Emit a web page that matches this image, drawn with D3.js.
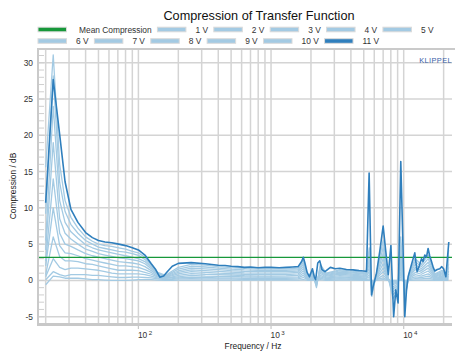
<!DOCTYPE html>
<html><head><meta charset="utf-8">
<script src="https://cdn.jsdelivr.net/npm/d3@7"></script>
<style>body{margin:0;background:#fff}svg{display:block;font-family:"Liberation Sans",Arial,sans-serif}</style>
</head><body><svg id="c" width="455" height="352"></svg>
<script>
// ---- data ----
const title = "Compression of Transfer Function";
const xLabel = "Frequency / Hz";
const yLabel = "Compression / dB";
const seriesNames = ["1 V","2 V","3 V","4 V","5 V","6 V","7 V","8 V","9 V","10 V","11 V"];
const meanName = "Mean Compression";
const meanCompression = 3.18;
const yTicks = [-5, 0, 5, 10, 15, 20, 25, 30];
const xDecades = [100, 1000, 10000];

// shared frequency grid for 1 V .. 10 V
const freqs = [20, 22.8, 25.5, 28, 31, 35, 40, 45, 50, 56, 63, 71, 80, 90, 100, 112, 125, 140, 160, 180, 200, 250, 320, 400, 500, 630, 800, 1000, 1300, 1600, 1750, 1900, 2050, 2200, 2350, 2600, 3300, 4200, 5200, 5500, 5750, 6200, 7000, 7600, 8300, 9000, 9500, 10200, 11000, 12200, 13600, 15300, 17200, 19500, 21000, 21800];
const v1  = [-0.6, 0.6, 0.5, 0.3, 0.3, 0.3, 0.2, 0.1, 0.1, 0.05, 0.0, 0.0, 0.0, 0.05, 0.1, 0.1, 0.1, 0.05, 0.0, 0.0, 0.05, 0.05, 0.05, 0.05, 0.05, 0.05, 0.05, 0.05, 0.05, 0.05, 0.1, 0.0, 0.0, 0.0, 0.1, 0.0, 0.05, 0.05, 0.0, 0.05, 0.0, 0.0, 0.1, 0.0, 0.0, 0.0, 0.05, 0.0, 0.0, 0.05, 0.05, 0.05, 0.0, 0.05, 0.0, 0.05];
const v2  = [0.1, 1.2, 0.8, 0.6, 0.8, 0.8, 0.8, 0.7, 0.7, 0.6, 0.5, 0.4, 0.4, 0.45, 0.44, 0.4, 0.35, 0.2, 0.1, 0.15, 0.2, 0.25, 0.2, 0.2, 0.2, 0.15, 0.15, 0.15, 0.15, 0.2, 0.4, 0.1, 0.1, -0.05, 0.3, 0.1, 0.2, 0.15, 0.1, 0.2, -0.1, 0.1, 0.35, 0.05, -0.1, -0.05, 0.2, -0.1, 0.1, 0.25, 0.2, 0.3, 0.1, 0.15, 0.0, 0.25];
const v3  = [0.5, 3.0, 1.8, 1.5, 1.7, 1.7, 1.6, 1.5, 1.4, 1.2, 1.0, 0.9, 0.9, 0.9, 0.9, 0.8, 0.6, 0.3, 0.2, 0.25, 0.35, 0.45, 0.4, 0.35, 0.35, 0.3, 0.3, 0.3, 0.3, 0.35, 0.7, 0.1, 0.25, -0.1, 0.5, 0.25, 0.35, 0.3, 0.25, 0.5, -0.25, 0.15, 0.7, 0.1, -0.25, -0.15, 0.45, -0.25, 0.2, 0.5, 0.4, 0.6, 0.2, 0.3, 0.05, 0.55];
const v4  = [0.8, 6.0, 3.3, 2.7, 2.7, 2.6, 2.3, 2.2, 2.0, 1.8, 1.6, 1.4, 1.4, 1.4, 1.34, 1.1, 0.85, 0.45, 0.3, 0.4, 0.5, 0.7, 0.6, 0.55, 0.55, 0.5, 0.45, 0.45, 0.45, 0.5, 1.0, 0.2, 0.35, -0.2, 0.7, 0.35, 0.5, 0.4, 0.35, 0.8, -0.4, 0.25, 1.2, 0.15, -0.4, -0.25, 0.8, -0.45, 0.3, 0.8, 0.6, 0.9, 0.3, 0.45, 0.1, 0.9];
const v5  = [2.0, 10.0, 4.8, 3.8, 3.7, 3.4, 3.0, 2.8, 2.6, 2.4, 2.2, 2.0, 2.0, 1.9, 1.8, 1.5, 1.1, 0.55, 0.4, 0.5, 0.7, 0.95, 0.85, 0.8, 0.75, 0.65, 0.6, 0.6, 0.62, 0.7, 1.3, 0.2, 0.5, -0.3, 1.0, 0.45, 0.65, 0.55, 0.5, 1.2, -0.6, 0.3, 1.7, 0.2, -0.6, -0.35, 1.2, -0.7, 0.4, 1.1, 0.85, 1.3, 0.4, 0.6, 0.15, 1.3];
const v6  = [2.7, 14.0, 6.5, 5.0, 4.7, 4.2, 3.7, 3.4, 3.2, 3.0, 2.8, 2.6, 2.5, 2.4, 2.26, 1.9, 1.35, 0.7, 0.45, 0.65, 0.9, 1.2, 1.1, 1.0, 0.95, 0.85, 0.8, 0.8, 0.8, 0.9, 1.6, 0.3, 0.6, -0.4, 1.2, 0.6, 0.85, 0.7, 0.6, 1.7, -0.8, 0.4, 2.3, 0.3, -0.9, -0.5, 1.8, -1.0, 0.5, 1.5, 1.1, 1.7, 0.5, 0.75, 0.2, 1.8];
const v7  = [4.2, 19.0, 8.5, 6.5, 5.7, 5.0, 4.3, 4.0, 3.7, 3.5, 3.3, 3.1, 3.0, 2.85, 2.7, 2.3, 1.6, 0.8, 0.5, 0.8, 1.1, 1.45, 1.35, 1.25, 1.15, 1.05, 1.0, 1.0, 1.0, 1.1, 1.9, 0.3, 0.7, -0.5, 1.4, 0.7, 1.0, 0.85, 0.7, 2.3, -1.1, 0.5, 3.0, 0.35, -1.2, -0.7, 2.5, -1.3, 0.6, 1.8, 1.35, 2.1, 0.6, 0.9, 0.25, 2.3];
const v8  = [5.5, 24.0, 11.0, 8.0, 6.7, 5.8, 4.9, 4.5, 4.2, 4.0, 3.8, 3.6, 3.4, 3.2, 3.0, 2.6, 1.8, 0.9, 0.55, 0.95, 1.3, 1.7, 1.6, 1.5, 1.35, 1.25, 1.2, 1.2, 1.2, 1.3, 2.2, 0.4, 0.9, -0.6, 1.7, 0.8, 1.15, 1.0, 0.85, 2.9, -1.4, 0.6, 3.7, 0.45, -1.6, -0.9, 3.4, -1.7, 0.75, 2.2, 1.6, 2.5, 0.7, 1.05, 0.3, 2.9];
const v9  = [9.2, 28.2, 13.5, 9.5, 7.7, 6.5, 5.5, 5.0, 4.6, 4.4, 4.2, 4.0, 3.9, 3.7, 3.45, 2.9, 2.0, 1.0, 0.6, 1.1, 1.55, 1.95, 1.85, 1.7, 1.55, 1.45, 1.4, 1.4, 1.4, 1.5, 2.5, 0.5, 1.0, -0.8, 1.9, 0.9, 1.3, 1.1, 0.95, 3.6, -1.8, 0.7, 4.5, 0.5, -2.0, -1.2, 4.5, -2.2, 0.85, 2.6, 1.9, 3.0, 0.8, 1.2, 0.35, 3.5];
const v10 = [15.6, 31.1, 16.0, 11.0, 8.7, 7.2, 6.0, 5.4, 5.0, 4.8, 4.7, 4.5, 4.3, 4.0, 3.8, 3.2, 2.2, 1.1, 0.7, 1.3, 1.8, 2.2, 2.1, 1.9, 1.75, 1.65, 1.6, 1.6, 1.6, 1.7, 2.8, 0.6, 1.2, -1.0, 2.2, 1.0, 1.45, 1.25, 1.05, 4.5, -2.2, 0.8, 5.5, 0.6, -2.5, -1.5, 6.0, -2.8, 1.0, 3.0, 2.2, 3.5, 0.9, 1.4, 0.4, 4.2];

// 11 V has its own, denser frequency list
const freq11 = [20, 22.8, 25.5, 28, 31, 35, 40, 45, 50, 56, 63, 71, 80, 90, 100, 112, 125, 135, 145, 155, 165, 180, 200, 250, 320, 400, 450, 500, 560, 630, 700, 800, 900, 1000, 1150, 1300, 1450, 1600, 1700, 1750, 1800, 1870, 1950, 2050, 2120, 2170, 2250, 2330, 2420, 2550, 2800, 3050, 3300, 3700, 4150, 4600, 5000, 5245, 5488, 5721, 5882, 6237, 6600, 7000, 7250, 7650, 8010, 8400, 8718, 9074, 9508, 10192, 10500, 10794, 11452, 12125, 12620, 13100, 13623, 14000, 14425, 14850, 15277, 15700, 16204, 16700, 17160, 17900, 18710, 19300, 20000, 20800, 21880];
const v11 = [10.7, 27.7, 20.1, 13.6, 9.8, 8.0, 6.6, 5.9, 5.5, 5.3, 5.2, 5.0, 4.8, 4.5, 4.2, 3.5, 2.3, 1.5, 0.45, 0.6, 1.2, 1.95, 2.35, 2.45, 2.3, 2.1, 2.05, 1.95, 1.9, 1.8, 1.85, 1.75, 1.8, 1.8, 1.75, 1.8, 1.85, 1.9, 2.6, 3.2, 2.4, 1.1, 0.5, 1.6, 0.5, 0.1, 2.4, 2.7, 1.5, 1.2, 1.8, 1.6, 1.67, 1.5, 1.45, 1.35, 1.3, 1.25, 14.8, -2.0, -0.85, 1.0, 4.0, 7.5, 4.8, 0.8, 4.8, -5.0, -1.3, -3.1, 16.4, -5.0, -1.3, 0.5, 2.2, 3.8, 1.2, 2.0, 3.0, 2.6, 3.5, 3.2, 4.4, 3.4, 2.6, 1.8, 1.3, 1.5, 1.6, 1.9, 1.6, 0.5, 5.3];

// ---- layout ----
const L = 39, R = 452, T = 49, B = 323;
const lightColor = "#a3cae3", darkColor = "#2f7fbd", meanColor = "#17983a", gridColor = "#d4d4d4";
const svg = d3.select("#c");

const x = d3.scaleLog().domain([17.81, 23130]).range([L, R]);
const y = d3.scaleLinear().domain([-5.87, 31.9]).range([B, T]);

// title
svg.append("text").attr("x", 259).attr("y", 20).attr("text-anchor", "middle")
  .attr("font-size", 12.7).attr("fill", "#111").text(title);

// grid: vertical
const minorFreqs = [];
[10, 100, 1000, 10000].forEach(d => { for (let m = 1; m <= 9; m++) { const f = m * d; if (f > 17.81 && f < 23130) minorFreqs.push(f); } });
const grid = svg.append("g");
grid.selectAll("line.v").data(minorFreqs).join("line")
  .attr("x1", d => x(d)).attr("x2", d => x(d)).attr("y1", T).attr("y2", B)
  .attr("stroke", gridColor).attr("stroke-width", 1.5);
grid.selectAll("line.h").data(yTicks).join("line")
  .attr("x1", L).attr("x2", R).attr("y1", d => y(d)).attr("y2", d => y(d))
  .attr("stroke", gridColor).attr("stroke-width", 1.5);

// frame lines
svg.append("line").attr("x1", 37).attr("x2", 455).attr("y1", T).attr("y2", T).attr("stroke", "#cacaca").attr("stroke-width", 2);
svg.append("line").attr("x1", 38).attr("x2", 38).attr("y1", T).attr("y2", B + 2).attr("stroke", "#cacaca").attr("stroke-width", 2);
svg.append("line").attr("x1", 37).attr("x2", R).attr("y1", B + 1.5).attr("y2", B + 1.5).attr("stroke", "#c8c8c8").attr("stroke-width", 3);

// y minor ticks
const yMinor = d3.range(-5, 32, 1);
svg.append("g").selectAll("line").data(yMinor).join("line")
  .attr("x1", 39).attr("x2", 44).attr("y1", d => y(d)).attr("y2", d => y(d))
  .attr("stroke", "#cfcfcf").attr("stroke-width", 1);
// x decade ticks below axis
svg.append("g").selectAll("line").data(xDecades).join("line")
  .attr("x1", d => x(d)).attr("x2", d => x(d)).attr("y1", B + 3).attr("y2", B + 6)
  .attr("stroke", "#c8c8c8").attr("stroke-width", 1.2);

// y tick labels
svg.append("g").selectAll("text").data(yTicks).join("text")
  .attr("x", 33).attr("y", d => y(d) + 3).attr("text-anchor", "end")
  .attr("font-size", 8.4).attr("fill", "#333").text(d => d);
// x tick labels 10^n
const xl = svg.append("g").selectAll("text").data(xDecades).join("text")
  .attr("x", d => x(d) - 0.5).attr("y", 338).attr("font-size", 8.4).attr("fill", "#333");
xl.append("tspan").text("10");
xl.append("tspan").attr("dx", 1.5).attr("dy", -3.5).attr("font-size", 6.2).text(d => Math.round(Math.log10(d)));

// axis labels
svg.append("text").attr("x", 253).attr("y", 349).attr("text-anchor", "middle")
  .attr("font-size", 8.4).attr("fill", "#222").text(xLabel);
svg.append("text").attr("transform", "translate(16,186) rotate(-90)").attr("text-anchor", "middle")
  .attr("font-size", 8.4).attr("fill", "#222").text(yLabel);

// KLIPPEL
svg.append("text").attr("x", 452).attr("y", 62.5).attr("text-anchor", "end")
  .attr("font-size", 7.4).attr("letter-spacing", 0.4).attr("fill", "#3a5ea8").text("KLIPPEL");

// clip
svg.append("clipPath").attr("id", "clip").append("rect").attr("x", L).attr("y", T).attr("width", R - L).attr("height", B - T);
const plot = svg.append("g").attr("clip-path", "url(#clip)");
const line = d3.line().x(d => x(d[0])).y(d => y(d[1]));

const lightSeries = [v1, v2, v3, v4, v5, v6, v7, v8, v9, v10].map((vals, i) => ({
  name: seriesNames[i], pts: freqs.map((f, j) => [f, vals[j]])
}));
plot.selectAll("path.light").data(lightSeries).join("path")
  .attr("fill", "none").attr("stroke", lightColor).attr("stroke-width", 1.3)
  .attr("stroke-linejoin", "round").attr("d", d => line(d.pts));

plot.append("line").attr("x1", L).attr("x2", R).attr("y1", y(meanCompression)).attr("y2", y(meanCompression))
  .attr("stroke", meanColor).attr("stroke-width", 1.3);

plot.append("path").datum(freq11.map((f, j) => [f, v11[j]]))
  .attr("fill", "none").attr("stroke", darkColor).attr("stroke-width", 1.6)
  .attr("stroke-linejoin", "round").attr("d", line);

// legend (flow layout, two rows)
const legendRows = [
  [{name: meanName, color: meanColor}].concat(seriesNames.slice(0, 5).map(n => ({name: n, color: lightColor}))),
  seriesNames.slice(5, 10).map(n => ({name: n, color: lightColor})).concat([{name: seriesNames[10], color: darkColor}])
];
const rowY = [29.5, 41];
legendRows.forEach((row, r) => {
  let cx = 38;
  row.forEach((item, k) => {
    const g = svg.append("g");
    g.append("rect").attr("x", cx).attr("y", rowY[r] - 2.3).attr("width", 28.5).attr("height", 4.6)
      .attr("fill", item.color).attr("stroke", "#dadada").attr("stroke-width", 1);
    const tx = cx + 28.5 + (k === 0 && r === 0 ? 12.5 : 9.5);
    const t = g.append("text").attr("x", tx).attr("y", rowY[r] + 3).attr("font-size", 8.4).attr("fill", "#333").text(item.name);
    cx = tx + t.node().getComputedTextLength() + 5.8;
  });
});
</script></body></html>
